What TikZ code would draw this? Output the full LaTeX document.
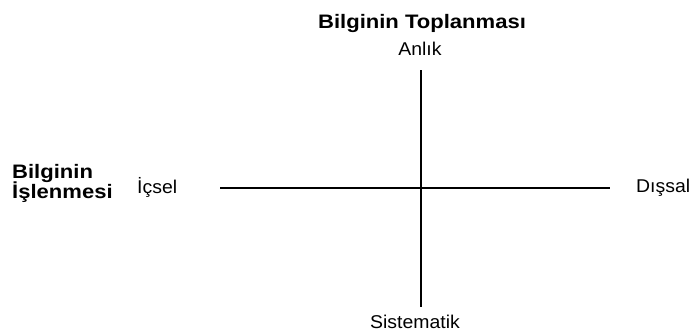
\documentclass[tikz,border=0pt]{standalone}
\usepackage{fontspec}
\setmainfont{Liberation Sans}[FakeStretch=1.05]
\newfontfamily\ttlfont{Liberation Sans}[FakeStretch=1.13]
\begin{document}
\begin{tikzpicture}[x=1pt,y=1pt,
  axis/.style={line width=2.6pt},
  lbl/.style={inner sep=0pt,font=\fontsize{18.5}{21}\selectfont},
  ttl/.style={inner sep=0pt,font=\ttlfont\fontsize{19.5}{22}\selectfont\bfseries}]
\useasboundingbox (0,0) rectangle (692,333);
\coordinate (top) at (421,263);
\coordinate (bot) at (421,26);
\coordinate (left) at (220,145);
\coordinate (right) at (610,145);
\draw[axis] (top) -- (bot);
\draw[axis] (left) -- (right);
\node[ttl,anchor=base] (t1) at (422,305) {Bilginin Toplanması};
\node[lbl,anchor=base] (anlik) at (420,278) {Anlık};
\node[lbl,anchor=base] (sis) at (415,5) {Sistematik};
\node[lbl,anchor=base west] (icsel) at (137,140) {İçsel};
\node[lbl,anchor=base west] (dissal) at (636,141) {Dışsal};
\node[ttl,anchor=base west] (b1) at (12,155) {Bilginin};
\node[ttl,anchor=base west] (b2) at (12,135) {İşlenmesi};
\end{tikzpicture}
\end{document}
